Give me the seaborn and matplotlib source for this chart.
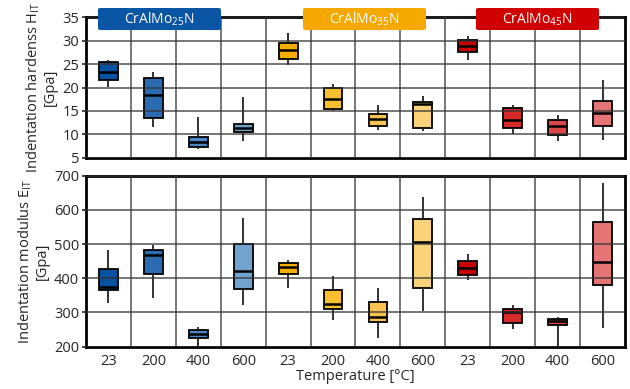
import numpy as np
import pandas as pd
import matplotlib
matplotlib.use("Agg")
import matplotlib.pyplot as plt
from matplotlib.patches import FancyBboxPatch
import seaborn as sns

# categories
alloys = ["CrAlMo$_{25}$N", "CrAlMo$_{35}$N", "CrAlMo$_{45}$N"]
temps = ["23", "200", "400", "600"]

# indentation hardness H_IT [GPa]: min, q1, median, q3, max per box (12 boxes)
h_min = [20.2, 11.5, 6.9, 8.6, 24.8, 15.1, 11.0, 10.7, 25.9, 10.2, 8.7, 8.9]
h_q1 = [21.5, 13.6, 7.3, 10.5, 26.0, 15.4, 11.8, 11.3, 27.5, 11.3, 9.8, 11.7]
h_med = [23.3, 18.4, 8.5, 11.3, 28.0, 17.6, 13.2, 16.5, 28.8, 13.1, 11.8, 14.6]
h_q3 = [25.5, 22.0, 9.5, 12.3, 29.5, 20.0, 14.4, 16.9, 30.1, 15.6, 13.0, 17.1]
h_max = [25.9, 23.3, 13.7, 18.0, 31.6, 20.7, 16.3, 18.2, 30.9, 16.3, 14.2, 21.5]

# indentation modulus E_IT [GPa]
e_min = [327, 341, 200, 322, 372, 278, 226, 305, 395, 252, 200, 254]
e_q1 = [367, 413, 226, 369, 414, 310, 273, 371, 409, 270, 264, 380]
e_med = [375, 468, 236, 420, 432, 326, 288, 507, 430, 302, 275, 449]
e_q3 = [428, 483, 250, 499, 446, 365, 332, 574, 451, 311, 280, 564]
e_max = [483, 497, 258, 577, 455, 407, 371, 638, 470, 321, 288, 680]

colors = ["#0752A0", "#2B6CB0", "#4A88C5", "#72A3CF",
          "#F6AE05", "#F9BF30", "#F9C550", "#F9D27A",
          "#C80000", "#D42A2A", "#DC4848", "#E57575"]
label_colors = ["#0B56A4", "#F5A800", "#D00000"]

cats = [f"{a}|{t}" for a in alloys for t in temps]


def long_df(stats):
    rows = []
    for arr in stats:
        for c, v in zip(cats, arr):
            rows.append((c, v))
    return pd.DataFrame(rows, columns=["cat", "value"])


df_h = long_df([h_min, h_q1, h_med, h_q3, h_max])
df_e = long_df([e_min, e_q1, e_med, e_q3, e_max])

sns.set_style("white")
plt.rcParams["font.family"] = ["Open Sans", "DejaVu Sans"]
plt.rcParams["mathtext.fontset"] = "custom"
plt.rcParams["mathtext.rm"] = "Open Sans"

fs = 10.5
fig = plt.figure(figsize=(6.3, 3.89), dpi=100)
ax1 = fig.add_axes([0.1365, 0.594, 0.8555, 0.362])
ax2 = fig.add_axes([0.1365, 0.109, 0.8555, 0.439])

box_kw = dict(x="cat", y="value", hue="cat", palette=colors, legend=False,
              order=cats, whis=(0, 100), width=0.42, showcaps=False,
              linecolor="black", linewidth=1.3, saturation=1,
              medianprops=dict(linewidth=1.8, color="black"),
              whiskerprops=dict(linewidth=1.3, color="#222222"))

sns.boxplot(data=df_h, ax=ax1, **box_kw)
sns.boxplot(data=df_e, ax=ax2, **box_kw)

for ax, lo, hi, step in [(ax1, 5, 35, 5), (ax2, 200, 700, 100)]:
    ax.set_ylim(lo, hi)
    ax.set_yticks(np.arange(lo, hi + 1, step))
    ax.set_xlim(-0.5, 11.5)
    ax.set_xticks(np.arange(0.5, 11, 1), minor=True)
    ax.set_axisbelow(False)
    ax.grid(which="major", axis="y", color="#333333", linewidth=1.1, alpha=0.85)
    ax.grid(which="minor", axis="x", color="#333333", linewidth=1.1, alpha=0.85)
    ax.grid(which="major", axis="x", visible=False)
    ax.tick_params(axis="x", which="both", length=0, labelsize=fs, pad=5)
    ax.tick_params(axis="y", which="major", length=3, width=1.2, labelsize=fs,
                   pad=2, left=True, direction="out")
    for s in ax.spines.values():
        s.set_visible(True)
        s.set_color("black")
        s.set_linewidth(2.0)
    ax.set_xlabel("")

ax1.set_xticklabels([])
ax2.set_xticks(range(12))
ax2.set_xticklabels(temps * 3)
ax2.set_xlabel("Temperature [°C]", fontsize=fs, labelpad=0)

ax1.set_ylabel("Indentation hardenss H$_{\\mathregular{IT}}$\n[Gpa]", fontsize=fs,
               labelpad=3, linespacing=1.05)
ax2.set_ylabel("Indentation modulus E$_{\\mathregular{IT}}$\n[Gpa]", fontsize=fs,
               labelpad=3, linespacing=1.05)

# alloy labels above the top panel
W, H = 630, 389
for name, col, x0 in zip(alloys, label_colors, [98, 303, 476]):
    x = x0 / W
    y = 1 - 30 / H
    w = 123 / W
    h = 22 / H
    patch = FancyBboxPatch((x, y), w, h, boxstyle="round,pad=0,rounding_size=0.004",
                           transform=fig.transFigure, facecolor=col,
                           edgecolor="none", zorder=10)
    fig.patches.append(patch)
    fig.text(x + w / 2, y + h / 2, name, color="white", fontsize=10,
             ha="center", va="center", zorder=11)

fig.savefig("out.png", dpi=100)
